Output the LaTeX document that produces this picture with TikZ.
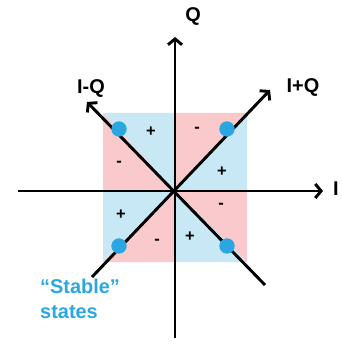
\documentclass[tikz,border=0pt]{standalone}
\usepackage{fontspec}
\setmainfont{Liberation Sans}
\usetikzlibrary{arrows.meta}
\definecolor{stablue}{HTML}{2AA7E0}
\definecolor{quadpink}{HTML}{F9C9CB}
\definecolor{quadblue}{HTML}{C9E8F6}

\begin{document}
\begin{tikzpicture}[x=0.03cm, y=-0.03cm,
    axis/.style={line width=2.5pt, -{Straight Barb[length=5pt, width=12pt]}},
    dot/.style={circle, fill=stablue, inner sep=0pt, minimum size=0.46cm},
    sign/.style={font=\bfseries\fontsize{14}{16}\selectfont, inner sep=0pt},
    lbl/.style={font=\bfseries\fontsize{17}{20}\selectfont, inner sep=0pt},
  ]
    \useasboundingbox (0,0) rectangle (341,344);
    \coordinate (o) at (175,191);

    % coloured square, one triangle per sector
    \fill[quadblue] (o) -- (175,113) -- (103,113) -- cycle;
    \fill[quadpink] (o) -- (103,113) -- (103,191) -- cycle;
    \fill[quadblue] (o) -- (103,191) -- (103,262) -- cycle;
    \fill[quadpink] (o) -- (103,262) -- (175,262) -- cycle;
    \fill[quadblue] (o) -- (175,262) -- (247,262) -- cycle;
    \fill[quadpink] (o) -- (247,262) -- (247,191) -- cycle;
    \fill[quadblue] (o) -- (247,191) -- (247,113) -- cycle;
    \fill[quadpink] (o) -- (247,113) -- (175,113) -- cycle;

    % axis ends
    \coordinate (iend)  at (18,191);
    \coordinate (itip)  at (323,191);
    \coordinate (qend)  at (175,338);
    \coordinate (qtip)  at (175,37);
    \coordinate (ipqend) at (92,277);
    \coordinate (ipqtip) at (270,90);
    \coordinate (imqend) at (265,285);
    \coordinate (imqtip) at (87,102);

    \draw[axis] (iend) -- (itip);
    \draw[axis] (qend) -- (qtip);
    \draw[axis] (ipqend) -- (ipqtip);
    \draw[axis] (imqend) -- (imqtip);

    % stable states
    \node[dot] (sul) at (119,129) {};
    \node[dot] (sur) at (227,129) {};
    \node[dot] (sll) at (119,246) {};
    \node[dot] (slr) at (227,246) {};

    % signs
    \node[sign] (p1) at (151,132) {+};
    \node[sign] (m1) at (197,130) {-};
    \node[sign] (m2) at (119,164) {-};
    \node[sign] (p2) at (222,172) {+};
    \node[sign] (p3) at (121,215) {+};
    \node[sign] (m3) at (221,206) {-};
    \node[sign] (m4) at (157,242) {-};
    \node[sign] (p4) at (190,237) {+};

    % axis labels
    \node[lbl] (lq)   at (193,17) {Q};
    \node[lbl] (li)   at (336,189) {I};
    \node[lbl] (limq) at (91,89) {I-Q};
    \node[lbl] (lipq) at (303,88) {I+Q};

    \node[lbl, text=stablue, align=left, anchor=north west] (stable) at (40,279)
      {“Stable”\\[1pt]states};
\end{tikzpicture}
\end{document}
